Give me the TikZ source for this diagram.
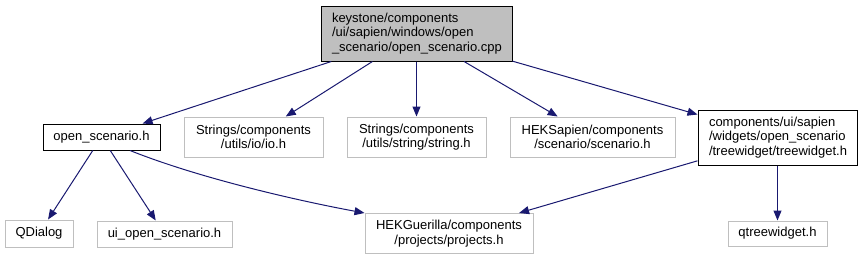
\documentclass[tikz,border=0pt]{standalone}
\usepackage{fontspec}
\setmainfont{Liberation Sans}
\usepackage{xcolor}
\usetikzlibrary{arrows.meta}
\definecolor{edgeblue}{RGB}{25,25,112}
\definecolor{boxgray}{RGB}{191,191,191}

\begin{document}
\begin{tikzpicture}[x=1pt, y=-1pt, font=\fontsize{13}{14.5}\selectfont,
    ext/.style={draw=boxgray, line width=1pt, align=center, inner sep=0pt},
    doc/.style={draw=black, line width=1pt, inner sep=0pt},
    edge/.style={draw=edgeblue, line width=1pt, -{Triangle[length=10pt, width=8pt]}}]
    \useasboundingbox (0,0) rectangle (863,260);
    \node[doc, fill=boxgray, text width=169, inner xsep=11, align=left, minimum height=55] (cpp) at (416.5,33.5) {keystone/components\\/ui/sapien/windows/open\\\_scenario/open\_scenario.cpp};
    \node[doc, align=center, minimum width=117, minimum height=26] (osh) at (101.5,137) {open\_scenario.h};
    \node[ext, minimum width=139, minimum height=40] (io) at (253.5,137) {Strings/components\\/utils/io/io.h};
    \node[ext, minimum width=139, minimum height=40] (str) at (416.5,137) {Strings/components\\/utils/string/string.h};
    \node[ext, minimum width=165, minimum height=40] (sap) at (592.5,137) {HEKSapien/components\\/scenario/scenario.h};
    \node[doc, text width=137, inner xsep=11, align=left, minimum height=55] (tw) at (777.5,137.5) {components/ui/sapien\\/widgets/open\_scenario\\/treewidget/treewidget.h};
    \node[ext, minimum width=68, minimum height=27] (qd) at (39,233.5) {QDialog};
    \node[ext, minimum width=135, minimum height=26] (ui) at (164.5,234) {ui\_open\_scenario.h};
    \node[ext, minimum width=168, minimum height=40] (hg) at (449,233.5) {HEKGuerilla/components\\/projects/projects.h};
    \node[ext, minimum width=99, minimum height=25] (qtw) at (777.5,233.5) {qtreewidget.h};
    \foreach \t in {osh, io, str, sap, tw} \draw[edge] (cpp) -- (\t);
    \foreach \t in {qd, ui} \draw[edge] (osh) -- (\t);
    \draw[edge] ([xshift=28.5pt]osh.south) .. controls +(70,28) and +(-65,-12) .. (hg.north west);
    \draw[edge] (tw) -- (hg);
    \draw[edge] (tw) -- (qtw);
\end{tikzpicture}
\end{document}
